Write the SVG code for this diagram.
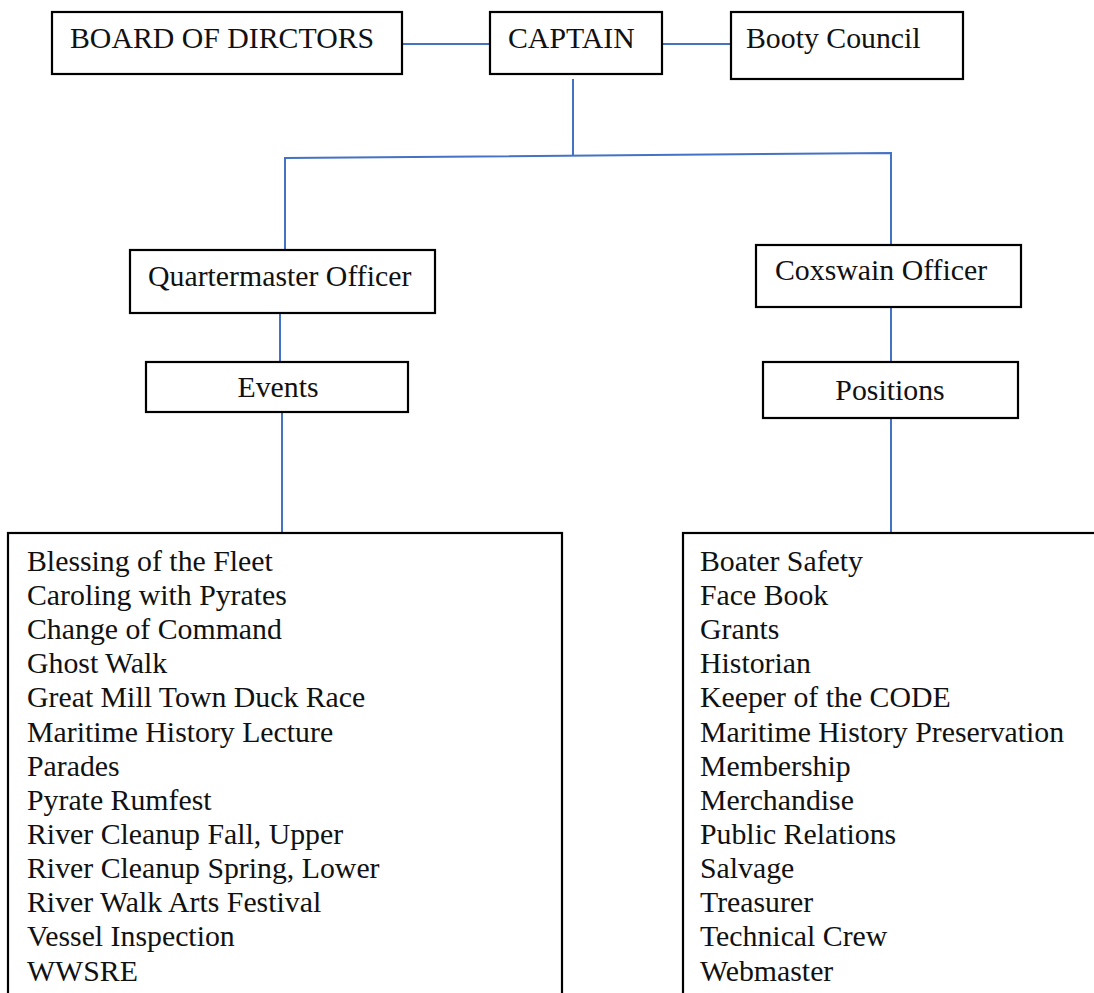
<svg xmlns="http://www.w3.org/2000/svg" width="1094" height="993" viewBox="0 0 1094 993">
<style>
.box{fill:#fff;stroke:#000;stroke-width:2.2}
.t{font-family:"Liberation Serif","Times New Roman",serif;font-size:29.8px;fill:#111}
.c{stroke:#4472C4;stroke-width:2;fill:none}
</style>
<rect width="1094" height="993" fill="#fff"/>
<g id="connectors">
<line class="c" x1="402" y1="44" x2="490" y2="44"/>
<line class="c" x1="662" y1="44" x2="731" y2="44"/>
<line class="c" x1="573" y1="79" x2="573" y2="156"/>
<polyline class="c" points="285,250 285,158 891,153 891,245"/>
<line class="c" x1="280" y1="313" x2="280" y2="362"/>
<line class="c" x1="891" y1="307" x2="891" y2="362"/>
<line class="c" x1="282" y1="412" x2="282" y2="533"/>
<line class="c" x1="891" y1="418" x2="891" y2="533"/>
</g>
<g id="board"><rect class="box" x="52" y="12" width="350" height="62"/><text class="t" x="70" y="48">BOARD OF DIRCTORS</text></g>
<g id="captain"><rect class="box" x="490" y="12" width="172" height="62"/><text class="t" x="508" y="48">CAPTAIN</text></g>
<g id="booty"><rect class="box" x="731" y="12" width="232" height="67"/><text class="t" x="746" y="48">Booty Council</text></g>
<g id="quartermaster"><rect class="box" x="130" y="250" width="305" height="63"/><text class="t" x="148" y="286">Quartermaster Officer</text></g>
<g id="coxswain"><rect class="box" x="756" y="245" width="265" height="62"/><text class="t" x="775" y="280">Coxswain Officer</text></g>
<g id="events"><rect class="box" x="146" y="362" width="262" height="50"/><text class="t" x="278" y="397" text-anchor="middle">Events</text></g>
<g id="positions"><rect class="box" x="763" y="362" width="255" height="56"/><text class="t" x="890" y="400" text-anchor="middle">Positions</text></g>
<g id="events-list"><rect class="box" x="8" y="533" width="554" height="480"/>
<text class="t" x="27" y="571">Blessing of the Fleet</text>
<text class="t" x="27" y="605">Caroling with Pyrates</text>
<text class="t" x="27" y="639">Change of Command</text>
<text class="t" x="27" y="673">Ghost Walk</text>
<text class="t" x="27" y="707">Great Mill Town Duck Race</text>
<text class="t" x="27" y="742">Maritime History Lecture</text>
<text class="t" x="27" y="776">Parades</text>
<text class="t" x="27" y="810">Pyrate Rumfest</text>
<text class="t" x="27" y="844">River Cleanup Fall, Upper</text>
<text class="t" x="27" y="878">River Cleanup Spring, Lower</text>
<text class="t" x="27" y="912">River Walk Arts Festival</text>
<text class="t" x="27" y="946">Vessel Inspection</text>
<text class="t" x="27" y="981">WWSRE</text>
</g>
<g id="positions-list"><rect class="box" x="683" y="533" width="430" height="480"/>
<text class="t" x="700" y="571">Boater Safety</text>
<text class="t" x="700" y="605">Face Book</text>
<text class="t" x="700" y="639">Grants</text>
<text class="t" x="700" y="673">Historian</text>
<text class="t" x="700" y="707">Keeper of the CODE</text>
<text class="t" x="700" y="742">Maritime History Preservation</text>
<text class="t" x="700" y="776">Membership</text>
<text class="t" x="700" y="810">Merchandise</text>
<text class="t" x="700" y="844">Public Relations</text>
<text class="t" x="700" y="878">Salvage</text>
<text class="t" x="700" y="912">Treasurer</text>
<text class="t" x="700" y="946">Technical Crew</text>
<text class="t" x="700" y="981">Webmaster</text>
</g>
</svg>
